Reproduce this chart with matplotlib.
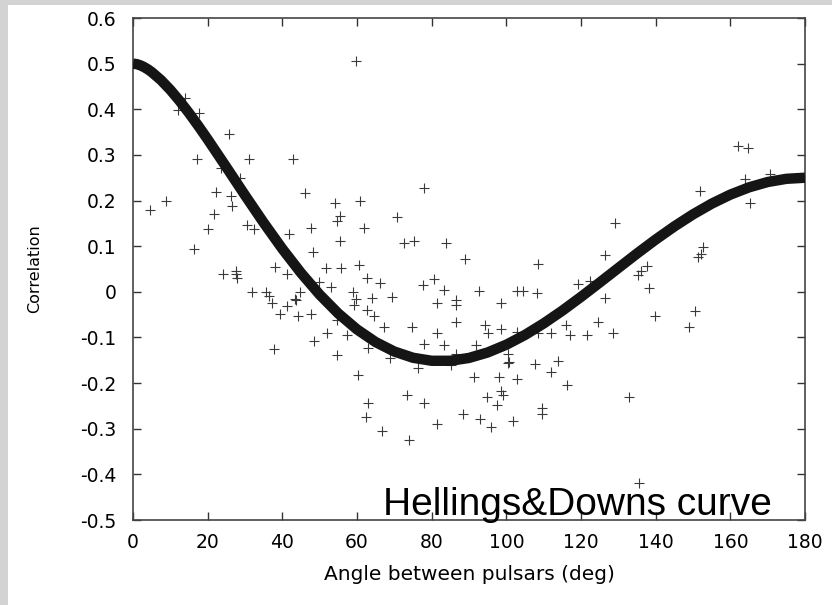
import matplotlib
matplotlib.use("Agg")
import matplotlib.pyplot as plt
from matplotlib.patches import Rectangle

plt.rcParams["axes.unicode_minus"] = False

# Measured pulsar-pair correlations: (angle in degrees, correlation)
pair_angle = [
    59.7, 13.8, 12.1, 17.6, 25.8, 17.2, 31.1, 42.9, 23.7, 28.7,
    22.3, 26.2, 46.2, 8.9, 4.6, 26.6, 54.0, 60.9, 21.6, 55.5,
    54.7, 20.1, 30.6, 32.3, 47.8, 41.8, 61.8, 55.5, 48.3, 16.4,
    38.1, 51.8, 55.7, 60.5, 24.2, 27.6, 27.6, 27.8, 41.3, 32.0,
    35.5, 36.4, 37.3, 39.3, 41.3, 43.3, 43.6, 44.6, 44.3, 47.6,
    37.8, 48.4, 52.0, 54.7, 57.3, 49.8, 53.0, 58.8, 59.6, 59.3,
    60.3, 54.6, 63.0, 62.4, 66.8, 63.0, 64.6, 63.9, 62.7, 62.8,
    66.1, 69.5, 67.3, 68.9, 73.8, 73.3, 78.0, 81.3, 76.4, 74.6,
    78.0, 81.3, 83.4, 81.3, 77.6, 80.6, 83.4, 86.4, 86.4, 86.4,
    86.4, 85.2, 88.5, 91.4, 91.8, 92.8, 94.3, 95.0, 93.0, 96.0,
    94.8, 97.6, 98.7, 99.0, 98.0, 98.5, 98.7, 100.5, 100.7, 100.4,
    102.9, 101.9, 102.9, 104.5, 108.3, 102.9, 107.7, 109.6, 109.6, 111.9,
    113.9, 116.2, 112.0, 115.9, 117.0, 108.6, 119.3, 78.0, 70.6, 72.7,
    75.4, 83.8, 88.9, 108.6, 129.0, 126.4, 122.3, 126.3, 124.5, 128.7,
    121.7, 162.0, 164.7, 164.0, 170.5, 165.2, 151.8, 152.7, 152.2, 151.3,
    135.4, 136.2, 137.8, 138.3, 139.8, 132.9, 148.8, 150.5, 135.5,
]
pair_corr = [
    0.506, 0.424, 0.398, 0.391, 0.345, 0.291, 0.292, 0.291, 0.271, 0.249,
    0.219, 0.211, 0.216, 0.200, 0.180, 0.189, 0.194, 0.199, 0.171, 0.166,
    0.156, 0.138, 0.146, 0.138, 0.139, 0.126, 0.139, 0.112, 0.087, 0.093,
    0.055, 0.052, 0.052, 0.059, 0.038, 0.046, 0.038, 0.030, 0.040, 0.000,
    0.000, -0.010, -0.024, -0.048, -0.032, -0.015, -0.019, -0.001, -0.054, -0.048,
    -0.125, -0.108, -0.090, -0.139, -0.094, 0.021, 0.010, 0.000, -0.016, -0.029,
    -0.182, -0.061, -0.243, -0.274, -0.304, -0.124, -0.054, -0.014, -0.039, 0.030,
    0.019, -0.012, -0.078, -0.145, -0.324, -0.225, -0.244, -0.289, -0.167, -0.078,
    -0.114, -0.090, -0.117, -0.024, 0.014, 0.027, 0.005, -0.019, -0.028, -0.066,
    -0.136, -0.161, -0.268, -0.187, -0.117, 0.001, -0.073, -0.090, -0.279, -0.297,
    -0.231, -0.248, -0.218, -0.227, -0.187, -0.024, -0.081, -0.136, -0.154, -0.157,
    -0.190, -0.284, 0.001, 0.001, -0.003, -0.089, -0.159, -0.254, -0.267, -0.176,
    -0.152, -0.205, -0.090, -0.073, -0.095, -0.090, 0.017, 0.227, 0.165, 0.108,
    0.112, 0.106, 0.072, 0.061, 0.151, 0.080, 0.023, -0.013, -0.067, -0.091,
    -0.095, 0.320, 0.316, 0.248, 0.259, 0.195, 0.222, 0.099, 0.083, 0.077,
    0.037, 0.045, 0.057, 0.008, -0.054, -0.230, -0.076, -0.042, -0.419,
]

# Hellings & Downs expected correlation, tabulated (denser near zero separation)
hd_angle = [
    0, 1, 2, 3, 4, 5, 7.5, 10, 12.5, 15, 17.5, 20, 25, 30, 35, 40, 45, 50,
    55, 60, 65, 70, 75, 80, 85, 90, 95, 100, 105, 110, 115, 120, 125, 130,
    135, 140, 145, 150, 155, 160, 165, 170, 175, 180,
]
hd_corr = [
    0.5000, 0.4989, 0.4962, 0.4923, 0.4874, 0.4816, 0.4639, 0.4425, 0.4182,
    0.3917, 0.3635, 0.3341, 0.2732, 0.2116, 0.1514, 0.0942, 0.0414, -0.0062,
    -0.0476, -0.0824, -0.1102, -0.1309, -0.1445, -0.1511, -0.1511, -0.1449,
    -0.1329, -0.1159, -0.0945, -0.0693, -0.0413, -0.0111, 0.0203, 0.0522,
    0.0839, 0.1145, 0.1433, 0.1697, 0.1931, 0.2130, 0.2289, 0.2406, 0.2476,
    0.2500,
]

x_ticks = list(range(0, 181, 20))
y_ticks = [0.6, 0.5, 0.4, 0.3, 0.2, 0.1, 0.0, -0.1, -0.2, -0.3, -0.4, -0.5]
y_tick_labels = ["0.6", "0.5", "0.4", "0.3", "0.2", "0.1", "0",
                 "-0.1", "-0.2", "-0.3", "-0.4", "-0.5"]

fig = plt.figure(figsize=(8.32, 6.05), dpi=100)
fig.patch.set_facecolor("#d3d3d3")
fig.add_artist(Rectangle((8 / 832, 0), 1, 1 - 5 / 605, transform=fig.transFigure,
                         facecolor="white", edgecolor="none", zorder=0))

ax = fig.add_axes([133 / 832, 1 - 520 / 605, 672 / 832, 502 / 605])
ax.set_facecolor("white")

ax.plot(pair_angle, pair_corr, linestyle="none", marker="+", markersize=7,
        markeredgewidth=0.8, color="#3a3a3a", zorder=2)
ax.plot(hd_angle, hd_corr, color="#151515", linewidth=7.5,
        solid_capstyle="butt", solid_joinstyle="round", zorder=3)

ax.set_xlim(0, 180)
ax.set_ylim(-0.5, 0.6)
ax.set_xticks(x_ticks)
ax.set_yticks(y_ticks)
ax.set_yticklabels(y_tick_labels)

axis_font = "DejaVu Sans"
ax.tick_params(axis="both", which="both", direction="in", length=6, width=1.0,
               color="#333333", top=True, right=True, labelsize=13.5)
ax.tick_params(axis="y", pad=12)
ax.tick_params(axis="x", pad=9)
for lab in ax.get_xticklabels() + ax.get_yticklabels():
    lab.set_fontfamily(axis_font)
for sp in ax.spines.values():
    sp.set_color("#444444")
    sp.set_linewidth(1.2)

ax.set_xlabel("Angle between pulsars (deg)", fontsize=14.5, family=axis_font,
              labelpad=10)
ax.set_ylabel("Correlation", fontsize=11.5, family=axis_font, labelpad=27)

ax.text(67, -0.489, "Hellings&Downs curve", fontsize=28,
        family="Liberation Sans", ha="left", va="baseline", color="black",
        zorder=4)

fig.savefig("out.png", dpi=100, facecolor=fig.get_facecolor())
